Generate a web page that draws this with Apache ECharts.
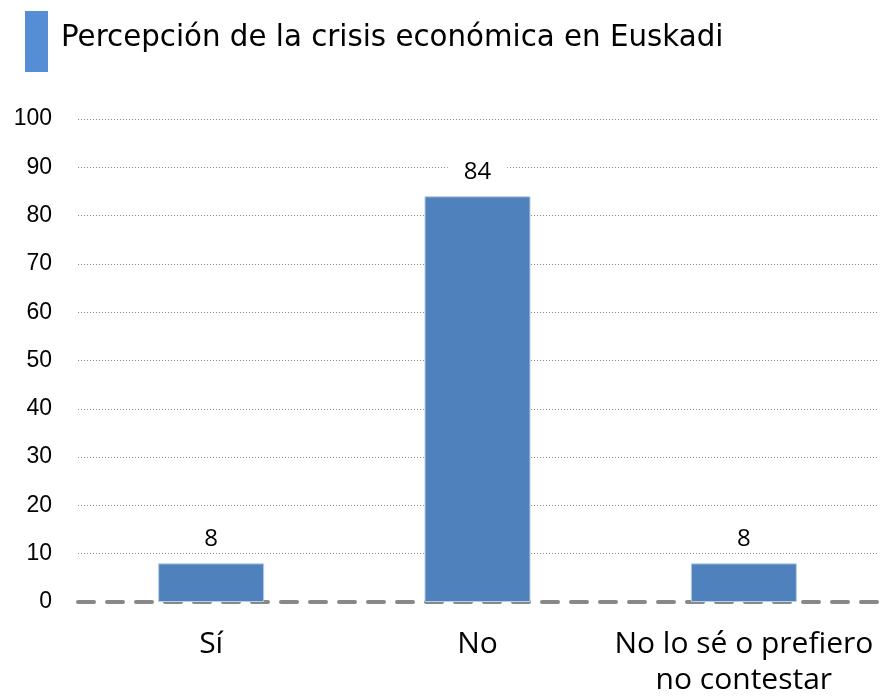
<!DOCTYPE html>
<html>
<head>
<meta charset="utf-8">
<script src="https://cdn.jsdelivr.net/npm/echarts@6/dist/echarts.min.js"></script>
<style>
  html, body { margin: 0; padding: 0; background: #fff; }
  #main { width: 882px; height: 698px; }
</style>
</head>
<body>
<div id="main"></div>
<script>
var categories = ['Sí', 'No', 'No lo sé o prefiero\nno contestar'];
var values = [8, 84, 8];
var titleText = 'Percepción de la crisis económica en Euskadi';

var myChart = echarts.init(document.getElementById('main'));
var option = {
    animation: false,
    backgroundColor: '#fff',
    title: {
        text: titleText,
        left: 56,
        top: 19,
        textStyle: {
            fontFamily: 'DejaVu Sans',
            fontWeight: 'normal',
            fontSize: 29.3,
            color: '#000'
        }
    },
    graphic: [{
        type: 'rect',
        left: 25,
        top: 11,
        shape: { width: 23, height: 61 },
        style: { fill: '#558ed5' }
    }],
    grid: {
        left: 78,   // 左留白
        right: 5,
        top: 119,
        bottom: 92
    },
    xAxis: {
        type: 'category',
        data: categories,
        axisTick: { show: false },
        axisLine: {
            show: true,
            lineStyle: { color: '#888', width: 4, type: [16, 13] }
        },
        axisLabel: {
            margin: 24,
            fontFamily: 'Open Sans',
            fontSize: 30,
            color: '#000',
            lineHeight: 36,
            interval: 0
        }
    },
    yAxis: {
        type: 'value',
        min: 0,
        max: 100,
        interval: 10,
        axisLine: { show: false },
        axisTick: { show: false },
        axisLabel: {
            margin: 26,
            fontFamily: 'Liberation Sans',
            fontSize: 23,
            color: '#000'
        },
        splitLine: {
            showMinLine: false,
            lineStyle: { color: '#888', width: 1, type: [1, 2] }
        }
    },
    series: [{
        type: 'bar',
        data: values,
        barWidth: 106,
        itemStyle: { color: '#4f81bd', borderColor: '#b9cde5', borderWidth: 1 },
        label: {
            show: true,
            position: 'top',
            distance: 12,
            fontFamily: 'Open Sans',
            fontSize: 24,
            color: '#000',
            backgroundColor: '#fff',
            padding: [0, 16]
        }
    }]
};
myChart.setOption(option);
</script>
</body>
</html>
